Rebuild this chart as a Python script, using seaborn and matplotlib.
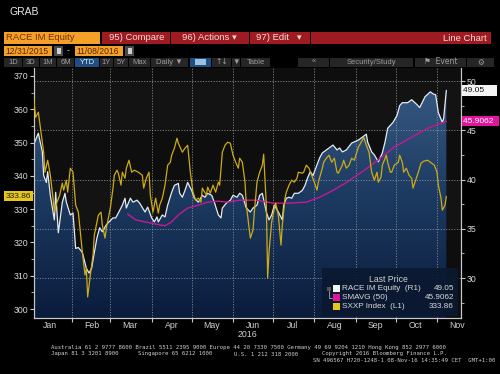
import numpy as np
import pandas as pd
import matplotlib
matplotlib.use("Agg")
import matplotlib.pyplot as plt
import matplotlib.dates as mdates
from matplotlib.patches import Rectangle
from matplotlib.ticker import MultipleLocator, NullFormatter
from matplotlib.colors import LinearSegmentedColormap
from matplotlib.transforms import blended_transform_factory
import seaborn as sns

# ---------------- data (days since 2015-12-31) ----------------
race_days = [4, 7, 10, 11, 13, 14, 16, 19, 20, 22, 25, 27, 28, 31, 33, 35, 37, 40, 43, 45,
             47, 49, 51, 53, 55, 58, 60, 63, 65, 67, 70, 72, 73, 76, 78, 81, 83, 87, 89, 92,
             94, 96, 97, 100, 102, 104, 107, 109, 112, 113, 115, 117, 119, 122, 124, 127, 130,
             132, 134, 137, 139, 142, 144, 145, 148, 151, 153, 156, 158, 160, 163, 166, 168,
             171, 173, 175, 178, 180, 182, 184, 187, 190, 191, 193, 195, 197, 199, 202, 205,
             207, 209, 211, 213, 216, 218, 220, 223, 226, 228, 231, 233, 235, 238, 242, 247,
             250, 253, 254, 257, 259, 262, 265, 267, 269, 273, 276, 278, 280, 284, 287, 291,
             293, 297, 301, 303, 305, 307, 310, 311, 313]
race_vals = [43.7, 44.7, 42.8, 40.4, 39.7, 40.8, 38.4, 35.9, 38.7, 34.6, 37.7, 38.6, 37.7, 36.4,
             36.6, 33.0, 33.1, 32.6, 31.0, 30.5, 31.0, 32.6, 34.1, 35.1, 34.7, 35.4, 35.7, 36.1,
             36.1, 36.6, 37.4, 38.1, 37.1, 38.1, 37.7, 37.9, 37.6, 36.7, 37.2, 36.1, 35.7, 36.2,
             35.7, 36.4, 36.2, 37.4, 38.7, 39.4, 39.6, 38.6, 38.2, 38.9, 39.7, 38.9, 38.1, 37.7,
             38.4, 38.2, 38.6, 38.4, 37.7, 36.4, 36.1, 37.1, 37.6, 37.9, 38.4, 38.2, 38.6, 38.4,
             37.1, 36.7, 37.1, 37.4, 38.4, 38.6, 36.7, 35.9, 36.4, 37.4, 36.7, 35.9, 37.4, 38.1,
             38.2, 38.1, 38.6, 38.6, 38.9, 39.4, 40.2, 40.8, 40.4, 41.5, 42.2, 42.7, 43.0, 43.3,
             43.5, 43.0, 43.2, 42.8, 43.0, 43.7, 44.0, 44.3, 44.6, 43.8, 42.8, 42.5, 41.8, 42.7,
             43.8, 45.2, 45.8, 46.5, 47.5, 47.8, 47.8, 48.1, 47.6, 47.3, 48.4, 48.9, 48.7, 48.6,
             46.8, 45.8, 46.2, 49.05]

sma_days = [74, 80, 87, 94, 102, 107, 112, 119, 127, 134, 142, 149, 158, 171, 183, 194, 208,
            218, 228, 237, 250, 262, 274, 287, 299, 313]
sma_vals = [36.5, 35.9, 35.7, 35.5, 35.3, 35.7, 36.4, 37.1, 37.4, 37.7, 37.8, 37.7, 37.9, 37.9,
            37.6, 37.6, 37.7, 38.2, 38.9, 39.6, 40.8, 42.0, 43.3, 44.3, 45.2, 45.9062]

sxxp_days = [3, 5, 7, 9, 11, 12, 14, 16, 18, 19, 21, 23, 25, 26, 28, 29, 31, 33, 35, 37, 39,
             40, 42, 43, 44, 46, 48, 49, 51, 52, 54, 55, 57, 58, 61, 63, 64, 66, 67, 69, 70,
             72, 73, 75, 77, 79, 82, 85, 86, 88, 90, 91, 93, 95, 97, 98, 100, 102, 104, 106,
             107, 109, 111, 112, 115, 117, 119, 120, 121, 123, 125, 127, 129, 130, 133, 134,
             136, 138, 140, 142, 143, 145, 147, 149, 151, 153, 155, 157, 158, 160, 162, 163,
             166, 168, 169, 171, 173, 175, 176, 178, 179, 180, 182, 184, 185, 187, 189, 190,
             192, 193, 195, 197, 199, 201, 202, 205, 206, 208, 210, 212, 214, 216, 217, 220,
             221, 223, 225, 227, 229, 231, 232, 235, 236, 238, 240, 242, 244, 247, 250, 251,
             253, 255, 257, 259, 261, 262, 264, 265, 268, 269, 271, 272, 274, 277, 278, 280,
             281, 283, 285, 287, 288, 290, 292, 294, 296, 299, 301, 304, 306, 307, 309, 310,
             312, 313]
sxxp_vals = [365.0, 357.6, 359.1, 353.1, 347.1, 341.1, 344.7, 340.2, 333.3, 329.1, 332.1,
             334.2, 337.8, 335.7, 338.7, 335.1, 342.3, 341.1, 331.2, 329.1, 321.3, 317.1, 310.2,
             312.3, 303.6, 310.2, 316.2, 322.2, 326.1, 328.2, 329.1, 325.2, 321.3, 324.3, 330.3,
             336.3, 340.2, 341.7, 340.8, 337.2, 341.1, 339.3, 342.3, 344.7, 341.1, 341.7, 341.1,
             340.2, 336.3, 339.3, 341.1, 334.2, 329.1, 333.3, 328.8, 331.2, 333.3, 337.2, 343.2,
             344.1, 346.2, 348.3, 351.3, 349.8, 347.1, 348.3, 349.2, 345.3, 341.1, 335.1, 332.7,
             333.3, 332.1, 336.3, 334.2, 336.6, 334.8, 337.2, 335.1, 338.1, 337.2, 347.1, 349.2,
             350.1, 349.8, 346.2, 344.1, 342.3, 345.3, 344.1, 338.1, 331.2, 321.3, 323.7, 329.1,
             338.1, 341.1, 343.2, 346.5, 331.2, 309.3, 317.1, 326.1, 330.3, 331.8, 328.2, 319.2,
             325.2, 333.3, 335.1, 337.2, 338.7, 338.1, 339.3, 341.1, 340.8, 341.1, 343.2, 342.3,
             340.2, 338.1, 335.7, 338.1, 342.3, 344.1, 345.3, 346.2, 344.1, 345.3, 341.1, 340.8,
             343.2, 344.7, 342.3, 343.2, 345.3, 344.7, 348.6, 350.7, 351.6, 349.2, 347.1, 341.1,
             338.7, 341.1, 338.1, 339.6, 343.2, 346.2, 344.1, 341.1, 341.1, 343.2, 344.1, 346.2,
             344.1, 341.1, 342.3, 340.2, 339.3, 336.3, 338.7, 341.1, 343.8, 344.4, 344.7, 344.1,
             343.2, 341.1, 337.2, 333.3, 329.7, 331.2, 333.86]

left_ticks = [300, 310, 320, 330, 340, 350, 360, 370]
right_ticks = [30, 35, 40, 45, 50]
legend_names = ["RACE IM Equity  (R1)", "SMAVG (50)", "SXXP Index  (L1)"]

base = pd.Timestamp("2015-12-31")


def to_dates(days):
    return base + pd.to_timedelta(days, unit="D")


race_df = pd.DataFrame({"date": to_dates(race_days), "value": race_vals})
sma_df = pd.DataFrame({"date": to_dates(sma_days), "value": sma_vals})
sxxp_df = pd.DataFrame({"date": to_dates(sxxp_days), "value": sxxp_vals})

# ---------------- style ----------------
sns.set_theme(style="dark", rc={"axes.facecolor": "#0e0e0e", "figure.facecolor": "black",
                                "axes.edgecolor": "#c8c8c8", "xtick.color": "#c8c8c8",
                                "ytick.color": "#c8c8c8"})
SANS = ["Liberation Sans", "DejaVu Sans"]
plt.rcParams["font.family"] = SANS

W, H = 500, 374
fig = plt.figure(figsize=(W / 100, H / 100), dpi=100, facecolor="black")


def fx(x):
    return x / W


def fy(y):
    return 1 - y / H


def box(x0, y0, x1, y1, color, alpha=1.0):
    fig.add_artist(Rectangle((fx(x0), fy(y1)), (x1 - x0) / W, (y1 - y0) / H,
                             transform=fig.transFigure, facecolor=color,
                             edgecolor="none", alpha=alpha))


def txt(x, y, s, color, size, ha="left", family=None, weight="normal"):
    fig.text(fx(x), fy(y), s, color=color, fontsize=size, ha=ha, va="center",
             family=family if family else SANS, fontweight=weight)


# ---------------- chart ----------------
L, R, T, B = 34, 461, 68, 318
ax = fig.add_axes([fx(L), fy(B), (R - L) / W, (B - T) / H])
ax2 = ax.twinx()

race_ylim = (25.94, 51.32)
sxxp_ylim = (297.3, 372.4)
xlim = (base + pd.Timedelta(days=3.75), base + pd.Timedelta(days=324))

# subtle horizontal bands
band_tr = blended_transform_factory(ax.transAxes, ax.transData)
for y0, y1 in [(45, 50), (35, 40)]:
    ax.add_patch(Rectangle((0, y0), 1, y1 - y0, transform=band_tr, facecolor="#ffffff",
                           alpha=0.025, edgecolor="none", zorder=0.5))

# gradient fill under RACE
poly = ax.fill_between(race_df["date"], race_df["value"], 0, facecolor="none",
                       edgecolor="none")
cmap = LinearSegmentedColormap.from_list("g", ["#3a5e86", "#1d3b62", "#0a1c3c"])
grad = np.linspace(0, 1, 256).reshape(-1, 1)
im = ax.imshow(grad, cmap=cmap, extent=[0, 1, 0, 1], transform=ax.transAxes,
               aspect="auto", zorder=1, interpolation="bilinear")
im.set_clip_path(poly.get_paths()[0], transform=ax.transData)

# grid
for m in pd.date_range("2016-02-01", "2016-11-01", freq="MS"):
    ax.axvline(m, color="#9a9a9a", lw=0.55, ls=(0, (1.5, 2.0)), zorder=2)
for v in right_ticks:
    ax.axhline(v, color="#9a9a9a", lw=0.55, ls=(0, (1.5, 2.0)), zorder=2)

sns.lineplot(data=race_df, x="date", y="value", ax=ax, color="#e4eaf2", lw=0.9, zorder=4)
sns.lineplot(data=sma_df, x="date", y="value", ax=ax, color="#c21a95", lw=1.0, zorder=5)
sns.lineplot(data=sxxp_df, x="date", y="value", ax=ax2, color="#cdab14", lw=0.9, zorder=3)

ax.set_xlim(*xlim)
ax.set_ylim(*race_ylim)
ax2.set_ylim(*sxxp_ylim)
for a in (ax, ax2):
    a.set_xlabel("")
    a.set_ylabel("")
    a.spines["top"].set_visible(False)
    for s in ("left", "right", "bottom"):
        a.spines[s].set_color("#c8c8c8")
        a.spines[s].set_linewidth(0.8)

ax.yaxis.tick_right()
ax2.yaxis.tick_left()
ax.set_yticks(right_ticks)
ax.yaxis.set_minor_locator(MultipleLocator(2.5))
ax2.set_yticks(left_ticks)
ax2.yaxis.set_minor_locator(MultipleLocator(5))
ax.tick_params(axis="y", which="major", direction="out", length=3, width=0.8,
               labelsize=6.3, labelcolor="#d8d8d8", pad=1, right=True, left=False)
ax.tick_params(axis="y", which="minor", direction="out", length=2, width=0.6,
               right=True, left=False)
ax2.tick_params(axis="y", which="major", direction="out", length=3, width=0.8,
                labelsize=6.3, labelcolor="#d8d8d8", pad=1, left=True, right=False)
ax2.tick_params(axis="y", which="minor", direction="out", length=2, width=0.6,
                left=True, right=False)

ax.xaxis.set_major_locator(mdates.MonthLocator())
ax.xaxis.set_major_formatter(NullFormatter())
ax.xaxis.set_minor_locator(mdates.MonthLocator(bymonthday=16))
ax.xaxis.set_minor_formatter(mdates.DateFormatter("%b"))
ax.tick_params(axis="x", which="major", direction="out", length=3, width=0.8, bottom=True)
ax.tick_params(axis="x", which="minor", length=0, labelsize=6.3, labelcolor="#d0d0d0", pad=2)
ax2.tick_params(axis="x", which="both", bottom=False, labelbottom=False)

# value tags
tr_r = blended_transform_factory(ax.transAxes, ax.transData)
ax.text(1.004, race_vals[-1], f"{race_vals[-1]:.2f}     ", transform=tr_r, ha="left",
        va="center", fontsize=6, color="#101010", clip_on=False,
        bbox=dict(boxstyle="square,pad=0.2", fc="#f4f4f4", ec="none"))
ax.text(1.004, sma_vals[-1], f"{sma_vals[-1]:.4f}  ", transform=tr_r, ha="left",
        va="center", fontsize=6, color="white", clip_on=False,
        bbox=dict(boxstyle="square,pad=0.2", fc="#e0159c", ec="none"))
tr_l = blended_transform_factory(ax2.transAxes, ax2.transData)
ax2.text(-0.006, sxxp_vals[-1], f"{sxxp_vals[-1]:.2f}", transform=tr_l, ha="right",
         va="center", fontsize=6, color="#202020", clip_on=False,
         bbox=dict(boxstyle="square,pad=0.2", fc="#e6c51c", ec="none"))

# legend panel
box(322, 268, 458, 316, "#0a1930", alpha=0.92)
txt(388, 279, "Last Price", "#d0d0d0", 6.2, ha="center")
sw_colors = ["#f4f4f4", "#e0159c", "#e6c51c"]
vals_txt = [f"{race_vals[-1]:.2f}", f"{sma_vals[-1]:.4f}", f"{sxxp_vals[-1]:.2f}"]
rows_y = [288.5, 297.5, 306.5]
for yy, c, name, v in zip(rows_y, sw_colors, legend_names, vals_txt):
    box(333, yy - 3.5, 340, yy + 3.5, c)
    txt(342, yy, name, "#d8d8d8", 5.9)
    txt(454, yy, v, "#d8d8d8", 5.9, ha="right")
fig.add_artist(plt.Line2D([fx(329), fx(329), fx(332)], [fy(290.5), fy(297.5), fy(297.5)],
                          transform=fig.transFigure, color="#aaaaaa", lw=0.6))
box(327, 286.5, 331, 290.5, "#555555")

# x-axis year
txt(247, 334.5, "2016", "#d0d0d0", 6.3, ha="center")

# ---------------- header ----------------
txt(10, 12, "GRAB", "#e8e8e8", 7.5)
box(4, 32, 100, 44, "#f4a12a")
txt(6, 38, "RACE IM Equity", "#7a2e00", 6.8)
box(102, 32, 170, 44, "#9e1b22")
txt(109, 38, "95) Compare", "#f3dada", 6.8)
box(171, 32, 249, 44, "#9e1b22")
txt(182, 38, "96) Actions \u25be", "#f3dada", 6.8)
box(250, 32, 310, 44, "#9e1b22")
txt(256, 38, "97) Edit   \u25be", "#f3dada", 6.8)
box(311, 32, 491, 44, "#9e1b22")
txt(487, 38.5, "Line Chart", "#f3dada", 6.8, ha="right")

box(4, 46, 52, 56, "#f4a12a")
txt(5, 51, "12/31/2015", "#5a2400", 6.2)
box(54, 46, 63, 56, "#4a4a4a")
box(56.5, 48.5, 60.5, 53.5, "#cfcfcf")
txt(68, 51, "-", "#cfcfcf", 6.2, ha="center")
box(75, 46, 123, 56, "#f4a12a")
txt(76, 51, "11/08/2016", "#5a2400", 6.2)
box(125, 46, 134, 56, "#4a4a4a")
box(127.5, 48.5, 131.5, 53.5, "#cfcfcf")

btns = [(4, 22, "1D"), (23, 39, "3D"), (40, 56, "1M"), (57, 74, "6M"), (75, 99, "YTD"),
        (100, 113, "1Y"), (114, 128, "5Y"), (129, 150, "Max"), (151, 188, "Daily \u25bc"),
        (190, 211, ""), (212, 231, "\u2191\u2193"), (232, 240, "\u25bc"), (241, 270, "Table"),
        (298, 329, "\u00ab"), (330, 413, "Security/Study"), (415, 466, "\u2691  Event"),
        (467, 494, "\u2699")]
for x0, x1, label in btns:
    hi = label == "YTD" or label == ""
    box(x0, 57.5, x1, 66.5, "#1f4f80" if hi else "#262626")
    if label:
        txt((x0 + x1) / 2, 62, label, "#dbe8f5" if hi else "#9c9c9c", 5.5, ha="center",
            family=["DejaVu Sans"] if label in ("\u2691  Event", "\u2699", "\u2191\u2193")
            else SANS)
box(195, 59.5, 206, 64.5, "#9cc0e0")

# ---------------- footer ----------------
MONO = ["DejaVu Sans Mono"]
txt(51, 348, "Australia 61 2 9777 8600 Brazil 5511 2395 9000 Europe 44 20 7330 7500 "
    "Germany 49 69 9204 1210 Hong Kong 852 2977 6000", "#cfcfcf", 4.05, family=MONO)
txt(51, 354, "Japan 81 3 3201 8900", "#cfcfcf", 4.05, family=MONO)
txt(138, 354, "Singapore 65 6212 1000", "#cfcfcf", 4.05, family=MONO)
txt(234, 354, "U.S. 1 212 318 2000", "#cfcfcf", 4.05, family=MONO)
txt(447, 354, "Copyright 2016 Bloomberg Finance L.P.", "#cfcfcf", 4.05, ha="right",
    family=MONO)
txt(495, 361, "SN 496567 H720-1248-1 08-Nov-16 14:35:49 CET  GMT+1:00", "#cfcfcf", 4.05,
    ha="right", family=MONO)

fig.savefig("out.png", dpi=100, facecolor="black")
